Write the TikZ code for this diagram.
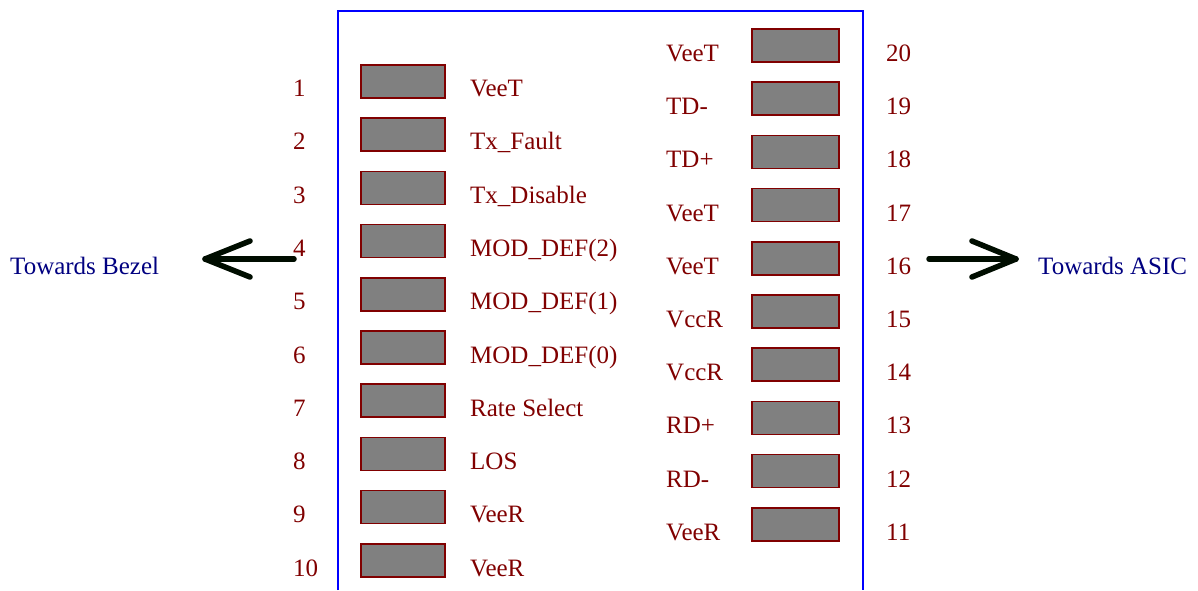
\documentclass[tikz,border=0pt]{standalone}
\usepackage{fontspec}
\setmainfont{Liberation Serif}
\definecolor{pinred}{HTML}{800000}
\definecolor{padgray}{HTML}{808080}
\definecolor{navytext}{HTML}{000080}
\definecolor{boxblue}{HTML}{0000FF}
\begin{document}
\begin{tikzpicture}[x=1pt,y=-1pt,
  pad/.style={draw=pinred,fill=padgray,line width=1.6pt,minimum width=84pt,minimum height=33pt,inner sep=0pt,outer sep=0pt,anchor=north west},
  pintext/.style={text=pinred,font=\fontsize{25}{30}\selectfont,inner sep=0pt,anchor=base west},
  dirtext/.style={text=navytext,font=\fontsize{25}{30}\selectfont,inner sep=0pt,anchor=base west},
  bigarrow/.style={line width=5.5pt,line cap=round,line join=round,draw=black!95!green}]
\useasboundingbox (0,0) rectangle (1198,590);
% module outline
\coordinate (bl) at (338,590);
\coordinate (tl) at (338,11);
\coordinate (tr) at (863,11);
\coordinate (br) at (863,590);
\draw[boxblue,line width=1.6pt] (bl) -- (tl) -- (tr) -- (br);
% left row
\foreach \i/\lab in {1/VeeT,2/Tx\_Fault,3/Tx\_Disable,4/MOD\_DEF(2),5/MOD\_DEF(1),6/MOD\_DEF(0),7/Rate Select,8/LOS,9/VeeR,10/VeeR}{
  \pgfmathsetmacro{\pt}{65+(\i-1)*53.2}
  \pgfmathsetmacro{\bs}{96.5+(\i-1)*53.3}
  \node[pad] (lp\i) at (361,\pt) {};
  \node[pintext] (ln\i) at (293,\bs) {\i};
  \node[pintext] (ll\i) at (470,\bs) {\lab};
}
% right row
\foreach \j/\n/\lab in {0/20/VeeT,1/19/TD-,2/18/TD+,3/17/VeeT,4/16/VeeT,5/15/VccR,6/14/VccR,7/13/RD+,8/12/RD-,9/11/VeeR}{
  \pgfmathsetmacro{\pt}{29+\j*53.2}
  \pgfmathsetmacro{\bs}{61.5+\j*53.2}
  \node[pad,minimum width=87pt] (rp\n) at (752,\pt) {};
  \node[pintext] (rn\n) at (886,\bs) {\n};
  \node[pintext] (rl\n) at (666,\bs) {\lab};
}
% arrows
\coordinate (las) at (294,259);
\coordinate (lat) at (205,259);
\coordinate (lah1) at (250,241);
\coordinate (lah2) at (250,277);
\draw[bigarrow] (las) -- (lat);
\draw[bigarrow] (lah1) -- (lat) -- (lah2);
\coordinate (ras) at (929,259);
\coordinate (rat) at (1016,259);
\coordinate (rah1) at (972,241);
\coordinate (rah2) at (972,277);
\draw[bigarrow] (ras) -- (rat);
\draw[bigarrow] (rah1) -- (rat) -- (rah2);
\node[dirtext] (bezel) at (10,274) {Towards Bezel};
\node[dirtext] (asic) at (1038,274) {Towards ASIC};
\end{tikzpicture}
\end{document}
